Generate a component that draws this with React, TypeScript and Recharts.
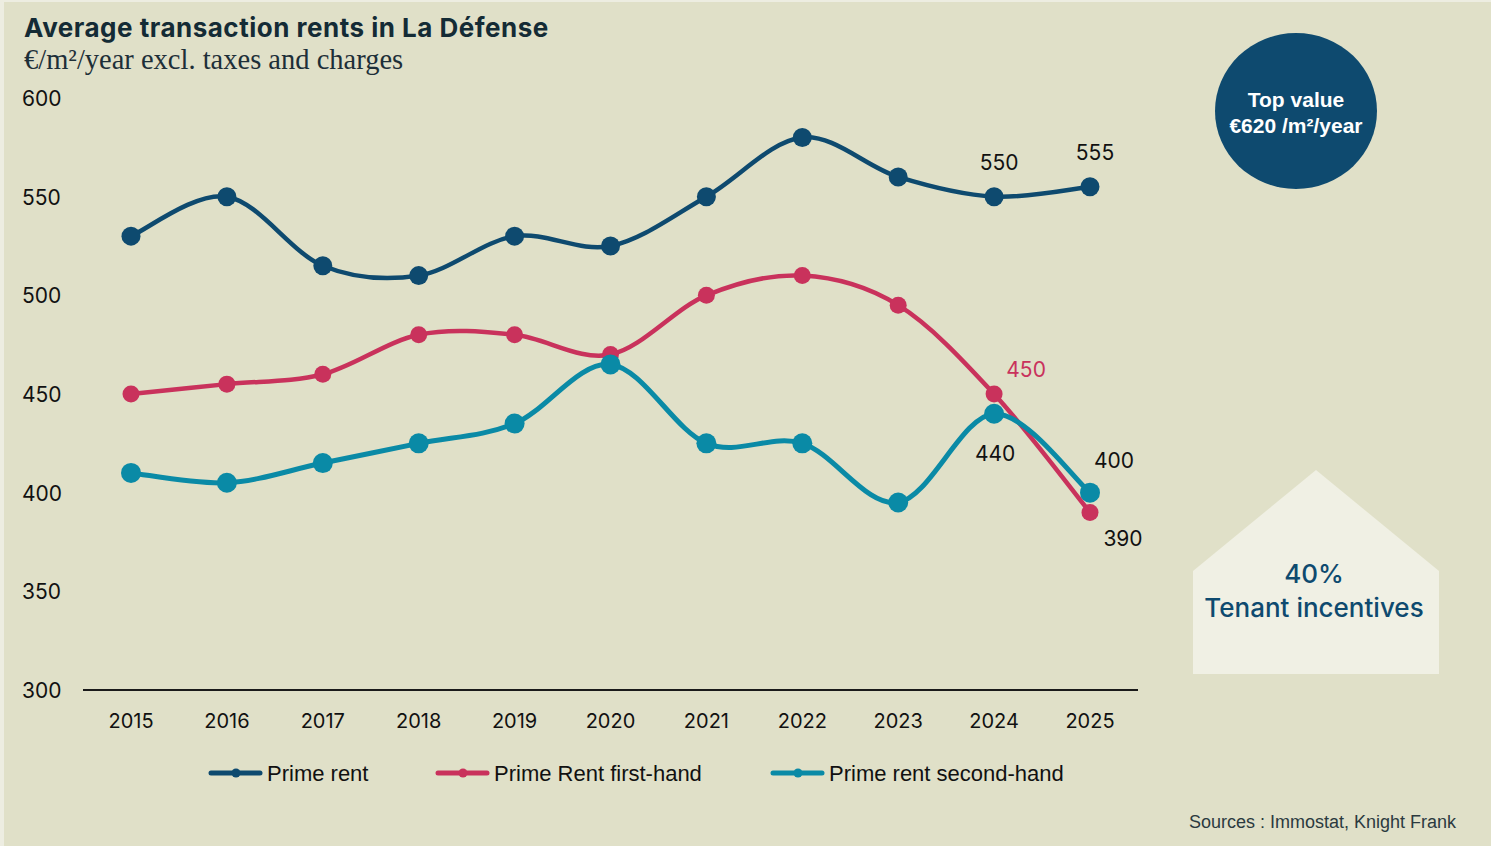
import React from 'react';
import { LineChart, Line, XAxis, YAxis } from 'recharts';

const years = ['2015', '2016', '2017', '2018', '2019', '2020', '2021', '2022', '2023', '2024', '2025'];
const primeRent = [530, 550, 515, 510, 530, 525, 550, 580, 560, 550, 555];
const primeFirstHand = [450, 455, 460, 480, 480, 470, 500, 510, 495, 450, 390];
const primeSecondHand = [410, 405, 415, 425, 435, 465, 425, 425, 395, 440, 400];
const yTicks = [300, 350, 400, 450, 500, 550, 600];
const seriesNames = ['Prime rent', 'Prime Rent first-hand', 'Prime rent second-hand'];
const labelledYears = ['2024', '2025'];

const data = years.map((year, i) => ({
  year,
  prime: primeRent[i],
  first: primeFirstHand[i],
  second: primeSecondHand[i],
}));

const COLORS = { prime: '#0E4A6F', first: '#C9325C', second: '#0A8AA6' };
const BG = '#E0E0C8';
const FONT = "'Liberation Sans', Arial, sans-serif";
const INTER = "Inter, 'Liberation Sans', sans-serif";

// label offsets (style) for the labelled points
const LABEL_OFFSETS: Record<string, Record<string, [number, number, string]>> = {
  prime: { '2024': [5, -27, '#111'], '2025': [5, -27, '#111'] },
  first: { '2024': [32, -17, '#C9325C'], '2025': [33, 34, '#111'] },
  second: { '2024': [1, 47, '#111'], '2025': [24, -25, '#111'] },
};

function catmullRom(context: any) {
  let pts: number[][] = [];
  return {
    areaStart() {},
    areaEnd() {},
    lineStart() {
      pts = [];
    },
    lineEnd() {
      const n = pts.length;
      if (!n) return;
      context.moveTo(pts[0][0], pts[0][1]);
      for (let i = 0; i < n - 1; i++) {
        const p0 = pts[Math.max(i - 1, 0)];
        const p1 = pts[i];
        const p2 = pts[i + 1];
        const p3 = pts[Math.min(i + 2, n - 1)];
        context.bezierCurveTo(
          p1[0] + (p2[0] - p0[0]) / 6,
          p1[1] + (p2[1] - p0[1]) / 6,
          p2[0] - (p3[0] - p1[0]) / 6,
          p2[1] - (p3[1] - p1[1]) / 6,
          p2[0],
          p2[1]
        );
      }
    },
    point(x: number, y: number) {
      pts.push([+x, +y]);
    },
  };
}

const makeLabel = (key: string) => (props: any) => {
  const { x, y, index, value } = props;
  const year = years[index];
  if (!labelledYears.includes(year)) return <g key={`${key}-${index}`} />;
  const off = LABEL_OFFSETS[key][year];
  return (
    <text
      key={`${key}-${index}`}
      x={x + off[0]}
      y={y + off[1]}
      textAnchor="middle"
      fontFamily={INTER}
      fontSize={21}
      fill={off[2]}
    >
      {value}
    </text>
  );
};

const XTick = (props: any) => {
  const { x, y, payload } = props;
  return (
    <text x={x} y={y + 36} textAnchor="middle" fontFamily={INTER} fontSize={20} fill="#111">
      {payload.value}
    </text>
  );
};

const YTick = (props: any) => {
  const { y, payload } = props;
  return (
    <text x={22} y={y + 8} textAnchor="start" fontFamily={INTER} fontSize={21} fill="#111">
      {payload.value}
    </text>
  );
};

const legendItems = [
  { name: seriesNames[0], color: COLORS.prime, x: 209 },
  { name: seriesNames[1], color: COLORS.first, x: 436 },
  { name: seriesNames[2], color: COLORS.second, x: 771 },
];

export default function App() {
  const curve: any = catmullRom;
  return (
    <div
      style={{
        position: 'relative',
        width: 1491,
        height: 846,
        background: BG,
        overflow: 'hidden',
      }}
    >
      <style>{`body{margin:0}`}</style>
      <div style={{ position: 'absolute', left: 0, top: 0, width: 4, height: 846, background: '#EDEDE1' }} />
      <div style={{ position: 'absolute', left: 0, top: 0, width: 1491, height: 2, background: '#EDEDE1' }} />
      <div style={{ position: 'absolute', left: 0, top: 0 }}>
        <LineChart
          width={1491}
          height={846}
          data={data}
          margin={{ top: 98, right: 353, bottom: 126, left: 22 }}
        >
          <XAxis
            dataKey="year"
            height={30}
            padding={{ left: 48, right: 48 }}
            axisLine={{ stroke: '#1a1a1a', strokeWidth: 2 }}
            tickLine={false}
            tickSize={0}
            tick={<XTick />}
            interval={0}
          />
          <YAxis
            width={61}
            domain={[300, 600]}
            ticks={yTicks}
            axisLine={false}
            tickLine={false}
            tickSize={0}
            tick={<YTick />}
            interval={0}
          />
          <Line
            dataKey="prime"
            name={seriesNames[0]}
            type={curve}
            stroke={COLORS.prime}
            strokeWidth={4.5}
            dot={{ r: 9.5, fill: COLORS.prime, stroke: 'none' }}
            activeDot={false}
            isAnimationActive={false}
            label={makeLabel('prime')}
          />
          <Line
            dataKey="first"
            name={seriesNames[1]}
            type={curve}
            stroke={COLORS.first}
            strokeWidth={4.5}
            dot={{ r: 8.5, fill: COLORS.first, stroke: 'none' }}
            activeDot={false}
            isAnimationActive={false}
            label={makeLabel('first')}
          />
          <Line
            dataKey="second"
            name={seriesNames[2]}
            type={curve}
            stroke={COLORS.second}
            strokeWidth={5}
            dot={{ r: 10, fill: COLORS.second, stroke: 'none' }}
            activeDot={false}
            isAnimationActive={false}
            label={makeLabel('second')}
          />
        </LineChart>
      </div>
      <svg
        width={1491}
        height={846}
        style={{ position: 'absolute', left: 0, top: 0, pointerEvents: 'none' }}
      >
        <text x={24} y={37} fontFamily={INTER} fontWeight={700} fontSize={26} letterSpacing={0.5} fill="#142B35">
          Average transaction rents in La Défense
        </text>
        <text x={24} y={69} fontFamily="'Liberation Serif', 'DejaVu Serif', serif" fontSize={28.5} fill="#1D2F38">
          €/m²/year excl. taxes and charges
        </text>

        {legendItems.map((it) => (
          <g key={it.name}>
            <line x1={it.x + 2} y1={773} x2={it.x + 51} y2={773} stroke={it.color} strokeWidth={5} strokeLinecap="round" />
            <circle cx={it.x + 27} cy={773} r={4.5} fill={it.color} />
            <text x={it.x + 58} y={781} fontFamily={FONT} fontSize={22} fill="#111">
              {it.name}
            </text>
          </g>
        ))}

        <ellipse cx={1296} cy={111} rx={81} ry={78} fill="#0E4A6F" />
        <text x={1296} y={107} textAnchor="middle" fontFamily={FONT} fontWeight={700} fontSize={21} fill="#fff">
          Top value
        </text>
        <text x={1296} y={133} textAnchor="middle" fontFamily={FONT} fontWeight={700} fontSize={21} fill="#fff">
          €620 /m²/year
        </text>

        <polygon points="1193,571 1316,470 1439,571 1439,674 1193,674" fill="#F0F0E4" />
        <text x={1314} y={583} textAnchor="middle" fontFamily={INTER} fontWeight={500} fontSize={26} fill="#0E4A6F">
          40%
        </text>
        <text x={1314} y={617} textAnchor="middle" fontFamily={INTER} fontWeight={500} fontSize={26} fill="#0E4A6F">
          Tenant incentives
        </text>

        <text x={1456} y={828} textAnchor="end" fontFamily={FONT} fontSize={18} fill="#2B3A3F">
          Sources : Immostat, Knight Frank
        </text>
      </svg>
    </div>
  );
}
